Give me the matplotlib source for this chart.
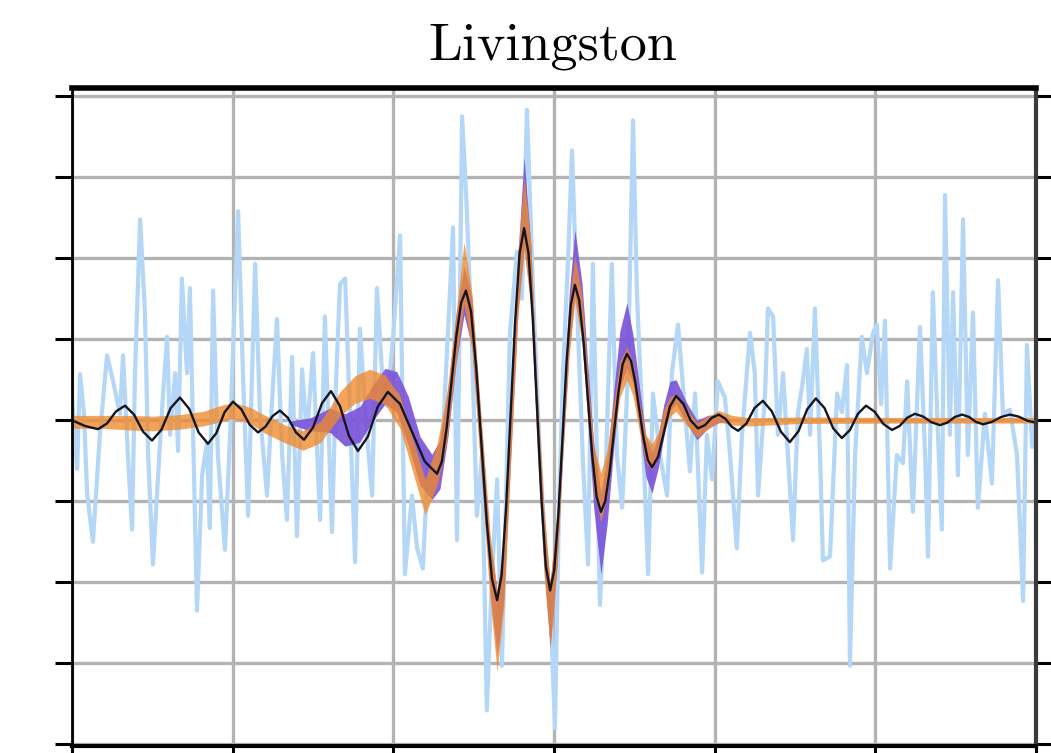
import matplotlib
matplotlib.use("Agg")
import matplotlib.pyplot as plt
import numpy as np

# time relative to merger (ms)
# whitened detector data
data_t = [-150.0, -148.4, -147.5, -146.3, -145.3, -143.5, -141.3, -139.1, -137.2, -135.1,
          -134.1, -132.6, -131.3, -130.4, -128.8, -127.3, -126.3, -124.8, -123.2, -121.7,
          -120.4, -119.5, -117.9, -117.0, -115.8, -114.2, -113.3, -112.3, -111.1, -109.5,
          -108.0, -107.1, -106.1, -104.6, -102.4, -100.8, -99.6, -98.3, -96.8, -95.2,
          -93.0, -91.5, -89.3, -87.8, -86.2, -84.6, -83.1, -81.5, -80.0, -78.4,
          -76.9, -75.0, -72.8, -71.3, -69.1, -67.8, -66.6, -65.0, -63.5, -61.9,
          -60.4, -58.2, -56.6, -55.1, -53.5, -52.0, -50.1, -47.9, -46.4, -44.2,
          -42.6, -40.8, -39.2, -37.7, -34.9, -33.0, -31.4, -30.2, -28.6, -27.1,
          -25.5, -24.0, -22.4, -20.9, -19.3, -17.7, -16.2, -13.7, -11.5, -10.0,
          -8.4, -6.5, -4.4, -2.2, -0.9, 0.3, 1.6, 2.8, 4.4, 5.6,
          7.5, 9.0, 10.6, 12.1, 14.3, 15.9, 18.0, 19.6, 21.2, 23.0,
          24.6, 25.8, 27.4, 29.3, 30.8, 33.0, 35.2, 36.7, 38.6, 39.8,
          42.3, 43.9, 46.1, 47.6, 49.2, 51.0, 53.2, 54.8, 56.9, 58.5,
          61.0, 62.5, 63.5, 65.7, 66.6, 68.2, 69.7, 71.3, 72.8, 74.4,
          75.9, 77.5, 78.7, 79.7, 81.2, 82.8, 83.7, 85.9, 88.1, 89.6,
          91.2, 92.1, 93.7, 95.8, 97.4, 99.3, 100.5, 101.8, 103.0, 104.6,
          106.7, 108.6, 109.9, 111.7, 113.9, 115.5, 116.4, 117.9, 119.5, 120.7,
          121.7, 123.2, 124.2, 125.7, 127.3, 128.8, 130.4, 131.9, 134.1, 136.3,
          138.2, 139.7, 141.9, 144.1, 146.0, 147.2, 148.8, 150.0]
data_h = [0.30, -0.60, 0.57, 0.10, -0.90, -1.50, -0.17, 0.80, 0.48, 0.08,
          0.80, -0.43, -1.35, 0.58, 2.48, 1.33, -0.43, -1.78, -0.68, 0.30,
          1.03, -0.18, 0.58, -0.38, 1.75, 0.58, 1.63, -0.18, -2.35, -0.68,
          -0.28, -1.33, 1.60, -0.43, -1.60, -0.18, 1.20, 2.58, 0.58, -1.18,
          1.93, 0.08, -0.93, 0.20, 1.25, -0.43, -1.23, 0.78, -1.43, 0.63,
          -0.18, 0.83, -1.23, 1.28, -1.38, 0.50, 1.68, 1.75, 0.08, -1.75,
          1.13, -0.18, -0.93, 1.63, 0.58, 0.18, 1.00, 2.28, -1.90, -0.93,
          -1.58, -1.83, -0.50, -0.93, -0.43, 1.08, 2.38, -1.48, 3.75, 2.58,
          0.88, -1.18, -0.43, -3.58, -1.93, -0.73, -3.03, 1.08, 2.08, 1.50,
          3.83, 1.58, -0.43, -1.93, -2.50, -3.80, -1.00, 0.58, 2.00, 3.33,
          1.08, -0.50, -1.78, 1.93, -2.28, -0.93, 1.93, -0.43, -1.08, 0.58,
          3.70, 1.58, 0.08, -1.90, 0.33, -0.43, -0.93, 0.58, 1.18, 0.58,
          -0.63, 0.33, -1.88, -0.18, -0.73, 0.48, 0.28, -0.43, -1.58, -0.18,
          1.08, 0.58, -0.93, 0.33, 1.38, 1.28, -0.18, 0.58, -0.43, -1.48,
          0.08, 0.50, 0.88, -0.18, 1.38, -0.43, -1.73, -1.68, 0.33, 0.10,
          0.68, -3.03, -0.43, 1.03, 0.58, 1.08, 1.18, 0.20, 1.23, -1.83,
          -0.43, -0.53, 0.48, -1.13, 1.15, -0.43, -1.68, 1.58, -0.18, -1.35,
          2.78, -0.18, 1.58, -0.68, 2.48, -0.43, 1.33, -1.08, 0.08, -0.78,
          1.73, 0.08, 0.13, -0.43, -2.23, 0.93, -0.33, 0.08]

# best-fit template waveform
model_t = [-150.0, -146.0, -141.9, -139.1, -136.3, -133.5, -130.7, -127.9, -125.1, -122.2,
           -119.3, -116.4, -113.5, -110.6, -107.7, -105.1, -102.5, -99.9, -97.3, -94.7,
           -92.1, -89.8, -87.6, -85.3, -82.8, -80.3, -77.8, -75.0, -72.2, -69.4,
           -66.6, -63.8, -61.0, -57.9, -54.8, -51.7, -47.9, -44.05, -40.2, -36.4,
           -34.9, -33.4, -31.9, -30.4, -28.9, -27.4, -25.8, -24.2, -22.55, -20.9,
           -19.3, -17.7, -16.3, -14.9, -13.5, -12.1, -10.7, -9.3, -7.95, -6.6,
           -5.25, -3.9, -2.55, -1.2, 0.08, 1.37, 2.65, 3.93, 5.22, 6.5,
           7.85, 9.2, 10.55, 11.9, 13.25, 14.6, 15.95, 17.3, 18.65, 20.0,
           21.35, 22.7, 24.0, 25.3, 26.6, 27.9, 29.2, 30.5, 32.4, 34.25,
           36.1, 38.0, 40.3, 42.5, 44.8, 47.0, 49.1, 51.3, 53.3, 55.3,
           57.3, 59.9, 62.4, 65.0, 67.8, 70.6, 73.4, 76.1, 78.8, 81.5,
           84.2, 86.9, 89.6, 92.1, 94.6, 97.1, 99.8, 102.5, 105.2, 107.6,
           109.9, 112.3, 114.9, 117.5, 120.1, 122.4, 124.7, 127.0, 129.2, 131.3,
           133.5, 136.3, 139.1, 141.9, 144.6, 147.3, 150.0]
model_h = [0.00, -0.07, -0.11, -0.04, 0.11, 0.18, 0.07, -0.14, -0.25, -0.12,
           0.15, 0.28, 0.14, -0.15, -0.29, -0.16, 0.10, 0.23, 0.135, -0.055,
           -0.15, -0.08, 0.05, 0.12, 0.03, -0.15, -0.24, -0.09, 0.21, 0.36,
           0.175, -0.195, -0.38, -0.20, 0.17, 0.35, 0.20, -0.155, -0.51, -0.66,
           -0.51, -0.095, 0.47, 1.035, 1.45, 1.60, 1.34, 0.645, -0.31, -1.265,
           -1.96, -2.22, -1.91, -1.07, 0.075, 1.22, 2.06, 2.37, 2.07, 1.25,
           0.135, -0.98, -1.80, -2.10, -1.85, -1.16, -0.215, 0.73, 1.42, 1.67,
           1.48, 0.97, 0.27, -0.43, -0.94, -1.13, -1.00, -0.64, -0.155, 0.33,
           0.69, 0.82, 0.73, 0.47, 0.12, -0.23, -0.49, -0.58, -0.45, -0.14,
           0.17, 0.30, 0.20, 0.00, -0.10, -0.06, 0.03, 0.07, 0.02, -0.08,
           -0.13, -0.04, 0.15, 0.24, 0.11, -0.14, -0.27, -0.135, 0.135, 0.27,
           0.15, -0.10, -0.22, -0.12, 0.08, 0.18, 0.105, -0.045, -0.12, -0.07,
           0.03, 0.08, 0.045, -0.025, -0.06, -0.03, 0.04, 0.07, 0.04, -0.02,
           -0.05, -0.02, 0.04, 0.07, 0.045, -0.005, -0.03]

# 90% credible band of the wavelet reconstruction (median, half-width)
wav_t = [-150.0, -140.4, -132.0, -124.8, -116.4, -109.2, -103.9, -99.9, -94.6, -89.9,
         -83.7, -78.1, -72.8, -66.6, -61.9, -57.3, -52.6, -47.9, -44.2, -40.1,
         -36.4, -33.3, -30.5, -28.0, -25.5, -22.7, -19.9, -17.7, -15.6, -13.4,
         -11.2, -9.3, -7.2, -5.3, -3.1, -1.2, 0.9, 2.8, 4.7, 6.5,
         8.7, 10.6, 12.4, 14.6, 16.5, 18.7, 20.5, 22.7, 24.6, 26.8,
         28.6, 30.5, 32.4, 34.2, 36.1, 38.0, 41.1, 44.5, 47.9, 51.3,
         55.4, 61.0, 76.6, 107.7, 150.0]
wav_mid = [-0.02, -0.02, -0.03, -0.04, -0.02, 0.02, 0.08, 0.12, 0.06, -0.05,
           -0.17, -0.25, -0.15, 0.20, 0.38, 0.45, 0.38, 0.10, -0.40, -0.95,
           -0.55, 0.05, 1.00, 1.82, 1.20, -0.30, -1.80, -2.60, -1.90, -0.10,
           1.70, 2.55, 1.80, 0.10, -1.50, -2.40, -1.50, -0.10, 1.10, 1.75,
           1.25, 0.25, -0.60, -0.95, -0.65, 0.00, 0.50, 0.70, 0.50, 0.00,
           -0.35, -0.45, -0.30, 0.00, 0.17, 0.22, 0.05, -0.12, -0.03, 0.05,
           0.00, -0.02, 0.00, 0.00, 0.00]
wav_hw = [0.08, 0.08, 0.09, 0.09, 0.09, 0.09, 0.10, 0.10, 0.10, 0.11,
          0.11, 0.12, 0.13, 0.15, 0.17, 0.18, 0.18, 0.20, 0.20, 0.22,
          0.25, 0.30, 0.30, 0.38, 0.35, 0.35, 0.40, 0.50, 0.40, 0.35,
          0.40, 0.45, 0.40, 0.35, 0.40, 0.40, 0.35, 0.30, 0.30, 0.28,
          0.28, 0.28, 0.28, 0.30, 0.28, 0.25, 0.22, 0.20, 0.20, 0.18,
          0.17, 0.16, 0.14, 0.13, 0.12, 0.11, 0.10, 0.09, 0.08, 0.07,
          0.06, 0.05, 0.04, 0.035, 0.035]

# 90% credible band of the template (CBC) reconstruction
cbc_t = [-82.2, -75.9, -69.7, -65.0, -60.4, -56.6, -52.6, -48.9, -45.4, -41.7,
         -38.0, -35.5, -33.0, -30.5, -28.0, -25.5, -22.7, -19.9, -17.7, -15.6,
         -13.4, -11.2, -9.3, -7.2, -5.3, -3.1, -1.2, 0.9, 2.8, 4.7,
         6.5, 8.7, 10.6, 12.4, 14.6, 16.5, 18.7, 20.5, 22.7, 24.6,
         26.8, 28.6, 30.5, 32.4, 34.2, 36.1, 38.0, 41.1, 44.5, 47.9,
         51.3, 54.8]
cbc_mid = [-0.03, -0.05, 0.00, -0.12, -0.05, 0.20, 0.42, 0.35, 0.00, -0.50,
           -0.70, -0.55, 0.10, 1.00, 1.60, 1.20, -0.30, -1.80, -2.50, -1.90,
           -0.10, 1.70, 2.70, 1.80, 0.10, -1.50, -2.40, -1.50, -0.10, 1.20,
           1.95, 1.35, 0.30, -0.70, -1.40, -0.90, 0.05, 0.75, 1.05, 0.75,
           0.10, -0.45, -0.65, -0.40, 0.00, 0.30, 0.35, 0.10, -0.12, -0.02,
           0.02, 0.00]
cbc_hw = [0.02, 0.08, 0.15, 0.20, 0.22, 0.22, 0.22, 0.25, 0.30, 0.30,
          0.28, 0.30, 0.30, 0.30, 0.30, 0.30, 0.30, 0.30, 0.40, 0.30,
          0.30, 0.35, 0.55, 0.35, 0.30, 0.30, 0.40, 0.30, 0.30, 0.35,
          0.40, 0.35, 0.35, 0.40, 0.50, 0.40, 0.35, 0.35, 0.40, 0.30,
          0.25, 0.25, 0.25, 0.20, 0.20, 0.18, 0.15, 0.13, 0.12, 0.08,
          0.05, 0.02]

wav_mid = np.array(wav_mid)
wav_hw = np.array(wav_hw)
cbc_mid = np.array(cbc_mid)
cbc_hw = np.array(cbc_hw)

fig = plt.figure(figsize=(10.51, 7.53), dpi=100)
ax = fig.add_axes([0.0685, 0.0093, 0.9172, 0.8738])

ax.plot(data_t, data_h, color="#b4d6f7", lw=3.0, zorder=2)
ax.fill_between(cbc_t, cbc_mid - cbc_hw, cbc_mid + cbc_hw,
                color="#7a52d8", alpha=0.9, lw=0, zorder=3)
ax.fill_between(wav_t, wav_mid - wav_hw, wav_mid + wav_hw,
                color="#f08a2c", alpha=0.78, lw=0, zorder=4)
ax.plot(model_t, model_h, color="#15151f", lw=1.7, zorder=5,
        solid_joinstyle="round")

ax.set_xlim(-150, 150)
ax.set_ylim(-4.02, 4.1)
ax.set_xticks(np.arange(-150, 151, 50))
ax.set_yticks(np.arange(-4, 5, 1))
ax.set_xticklabels([])
ax.set_yticklabels([])
ax.grid(True, color="#b3b3b3", lw=2.4, zorder=1)
ax.set_axisbelow(True)

ax.tick_params(axis="y", which="both", direction="out", length=12, width=2.2,
               left=True, right=True, color="black")
ax.tick_params(axis="x", which="both", direction="out", length=6, width=2.2,
               bottom=True, top=False, color="black")

ax.spines["top"].set_linewidth(4)
ax.spines["bottom"].set_linewidth(3)
ax.spines["left"].set_linewidth(2)
ax.spines["right"].set_linewidth(3)
ax.spines["right"].set_color("#3a3a3a")
for s in ax.spines.values():
    s.set_zorder(6)

fig.text(0.526, 0.938, "Livingston", fontsize=39, family="cmr10",
         ha="center", va="center")

fig.savefig("out.png", dpi=100)
